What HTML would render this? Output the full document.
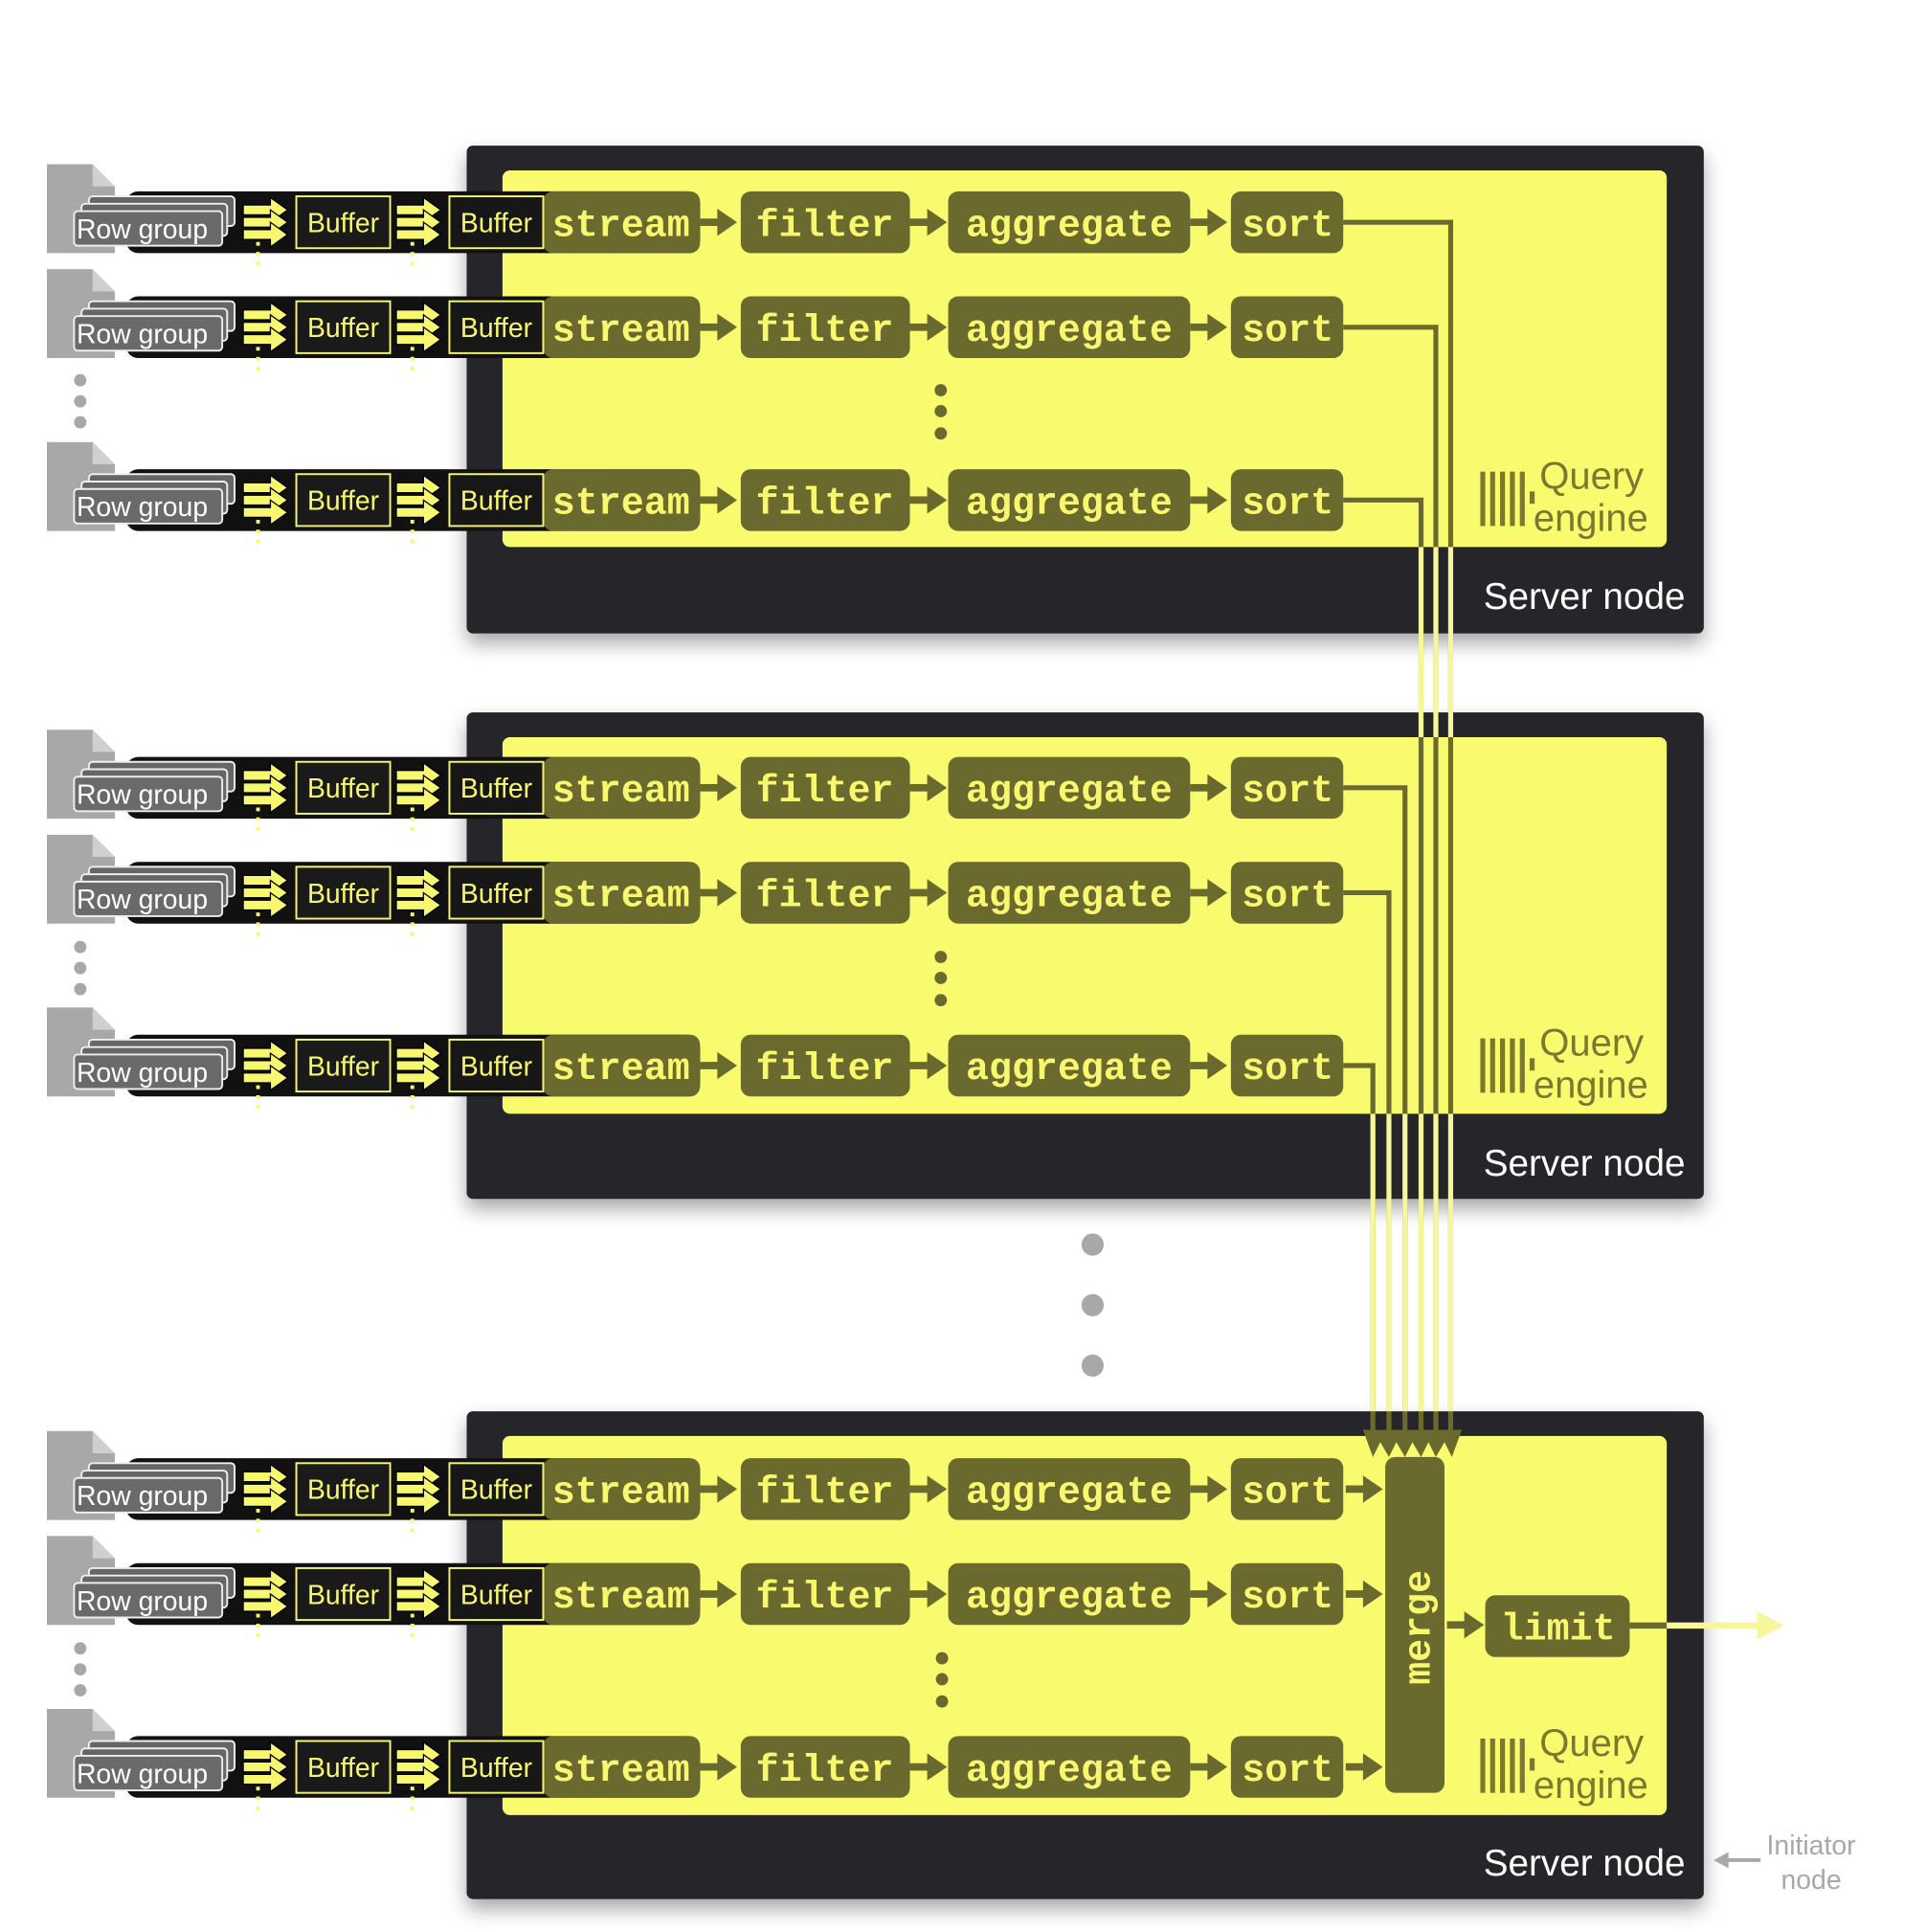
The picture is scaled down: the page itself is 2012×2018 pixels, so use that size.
<!DOCTYPE html>
<html><head><meta charset="utf-8"><style>
html,body{margin:0;padding:0;background:#fff;}
svg{display:block;}
.m{font-family:"Liberation Mono",monospace;font-weight:bold;font-size:31px;fill:#f8f870;}
.b{font-family:"Liberation Sans",sans-serif;font-size:22px;fill:#f8f870;}
.rg{font-family:"Liberation Sans",sans-serif;font-size:22px;fill:#fff;}
.n{fill:#6b6a2e;}
.qe{font-family:"Liberation Sans",sans-serif;font-size:31px;fill:#7a792f;}
.sn{font-family:"Liberation Sans",sans-serif;font-size:30px;fill:#fff;}
</style></head><body>
<svg width="2012" height="2018" viewBox="0 0 1560 1564.7" preserveAspectRatio="none" xmlns="http://www.w3.org/2000/svg">
<defs>
<filter id="sh" x="-10%" y="-10%" width="120%" height="130%"><feDropShadow dx="0" dy="8" stdDeviation="8" flood-color="#000" flood-opacity="0.35"/></filter>
<g id="arr3" fill="#f8f870" stroke="#000" stroke-width="1">
<polygon points="0,-14 22,-14 22,-20 36,-10 22,0 22,-6 0,-6"/>
<polygon points="0,-4 22,-4 22,-10 36,0 22,10 22,4 0,4"/>
<polygon points="0,6 22,6 22,0 36,10 22,20 22,14 0,14"/>
</g>
<g id="ca" class="n"><rect x="0" y="-3" width="16" height="6"/><polygon points="14,-11 30,0 14,11"/></g>
<g id="row">
<polygon points="38,-47 75,-47 93,-29 93,25 38,25" fill="#a8a8a8"/><polygon points="75,-47 93,-29 75,-29" fill="#d0d0d0"/>
<rect x="102" y="-25" width="465" height="50" rx="10" fill="#111"/>
<rect x="72" y="-21" width="118" height="24" rx="3" fill="#666" stroke="#eee" stroke-width="1.5"/><rect x="66" y="-15" width="118" height="26" rx="3" fill="#666" stroke="#eee" stroke-width="1.5"/><rect x="60" y="-9" width="120" height="28" rx="3" fill="#6a6a6a" stroke="#eee" stroke-width="1.5"/>
<use href="#arr3" x="197" y="0"/><use href="#arr3" x="321" y="0"/>
<line x1="209" y1="16" x2="209" y2="36" stroke="#f8f870" stroke-width="3" stroke-dasharray="3,5"/><line x1="334" y1="16" x2="334" y2="36" stroke="#f8f870" stroke-width="3" stroke-dasharray="3,5"/>
<rect x="240" y="-21" width="76" height="42" fill="#1a1a1a" stroke="#f8f870" stroke-width="1.5"/>
<rect x="440" y="-25" width="127" height="50" rx="8" class="n"/>
<rect x="364" y="-21" width="76" height="42" fill="#1a1a1a" fill-opacity="0.7" stroke="#f8f870" stroke-width="1.5"/>
<use href="#ca" x="567"/><rect x="600" y="-25" width="137" height="50" rx="8" class="n"/>
<use href="#ca" x="737"/><rect x="768" y="-25" width="196" height="50" rx="8" class="n"/>
<use href="#ca" x="964"/><rect x="997" y="-25" width="91" height="50" rx="8" class="n"/>
</g>
<g id="qe">
<g fill="#7a792f"><rect x="1199" y="382" width="4" height="44"/><rect x="1207" y="382" width="4" height="44"/><rect x="1215" y="382" width="4" height="44"/><rect x="1223" y="382" width="4" height="44"/><rect x="1231" y="382" width="4" height="44"/><rect x="1239" y="398" width="4" height="10"/></g>
</g>
</defs>

<g filter="url(#sh)">
<rect x="378" y="118" width="1002" height="395" rx="5" fill="#26262a"/>
<rect x="378" y="577" width="1002" height="394" rx="5" fill="#26262a"/>
<rect x="378" y="1143" width="1002" height="395" rx="5" fill="#26262a"/>
</g>
<rect x="407" y="138" width="943" height="305" rx="6" fill="#f9fb6f"/>
<rect x="407" y="597" width="943" height="305" rx="6" fill="#f9fb6f"/>
<rect x="407" y="1163" width="943" height="307" rx="6" fill="#f9fb6f"/>

<g fill="none" stroke-width="4">
<g stroke="#6b6a2e">
<polyline points="1088,180 1175,180 1175,1160"/>
<polyline points="1088,265 1163,265 1163,1160"/>
<polyline points="1088,405 1151,405 1151,1160"/>
<polyline points="1088,638 1138,638 1138,1160"/>
<polyline points="1088,723 1125,723 1125,1160"/>
<polyline points="1088,863 1112,863 1112,1160"/>
</g>
<g stroke="#f6f69a">
<line x1="1175" y1="443" x2="1175" y2="597"/><line x1="1163" y1="443" x2="1163" y2="597"/><line x1="1151" y1="443" x2="1151" y2="597"/>
<line x1="1175" y1="902" x2="1175" y2="1143"/><line x1="1163" y1="902" x2="1163" y2="1143"/><line x1="1151" y1="902" x2="1151" y2="1143"/>
<line x1="1138" y1="902" x2="1138" y2="1143"/><line x1="1125" y1="902" x2="1125" y2="1143"/><line x1="1112" y1="902" x2="1112" y2="1143"/>
</g>
</g>
<polygon class="n" points="1104,1158 1184,1158 1176,1180 1170,1168 1163,1180 1157,1168 1151,1180 1144,1168 1138,1180 1131,1168 1125,1180 1118,1168 1112,1180"/>

<!-- rows -->
<g transform="translate(0,180)"><use href="#row"/><text class="rg" x="62" y="13">Row group</text><text class="b" x="278" y="8" text-anchor="middle">Buffer</text><text class="b" x="402" y="8" text-anchor="middle">Buffer</text><text class="m" x="503" y="11" text-anchor="middle">stream</text><text class="m" x="668" y="11" text-anchor="middle">filter</text><text class="m" x="866" y="11" text-anchor="middle">aggregate</text><text class="m" x="1043" y="11" text-anchor="middle">sort</text></g>
<g transform="translate(0,265)"><use href="#row"/><text class="rg" x="62" y="13">Row group</text><text class="b" x="278" y="8" text-anchor="middle">Buffer</text><text class="b" x="402" y="8" text-anchor="middle">Buffer</text><text class="m" x="503" y="11" text-anchor="middle">stream</text><text class="m" x="668" y="11" text-anchor="middle">filter</text><text class="m" x="866" y="11" text-anchor="middle">aggregate</text><text class="m" x="1043" y="11" text-anchor="middle">sort</text></g>
<g transform="translate(0,405)"><use href="#row"/><text class="rg" x="62" y="13">Row group</text><text class="b" x="278" y="8" text-anchor="middle">Buffer</text><text class="b" x="402" y="8" text-anchor="middle">Buffer</text><text class="m" x="503" y="11" text-anchor="middle">stream</text><text class="m" x="668" y="11" text-anchor="middle">filter</text><text class="m" x="866" y="11" text-anchor="middle">aggregate</text><text class="m" x="1043" y="11" text-anchor="middle">sort</text></g>
<g transform="translate(0,638)"><use href="#row"/><text class="rg" x="62" y="13">Row group</text><text class="b" x="278" y="8" text-anchor="middle">Buffer</text><text class="b" x="402" y="8" text-anchor="middle">Buffer</text><text class="m" x="503" y="11" text-anchor="middle">stream</text><text class="m" x="668" y="11" text-anchor="middle">filter</text><text class="m" x="866" y="11" text-anchor="middle">aggregate</text><text class="m" x="1043" y="11" text-anchor="middle">sort</text></g>
<g transform="translate(0,723)"><use href="#row"/><text class="rg" x="62" y="13">Row group</text><text class="b" x="278" y="8" text-anchor="middle">Buffer</text><text class="b" x="402" y="8" text-anchor="middle">Buffer</text><text class="m" x="503" y="11" text-anchor="middle">stream</text><text class="m" x="668" y="11" text-anchor="middle">filter</text><text class="m" x="866" y="11" text-anchor="middle">aggregate</text><text class="m" x="1043" y="11" text-anchor="middle">sort</text></g>
<g transform="translate(0,863)"><use href="#row"/><text class="rg" x="62" y="13">Row group</text><text class="b" x="278" y="8" text-anchor="middle">Buffer</text><text class="b" x="402" y="8" text-anchor="middle">Buffer</text><text class="m" x="503" y="11" text-anchor="middle">stream</text><text class="m" x="668" y="11" text-anchor="middle">filter</text><text class="m" x="866" y="11" text-anchor="middle">aggregate</text><text class="m" x="1043" y="11" text-anchor="middle">sort</text></g>
<g transform="translate(0,1206)"><use href="#row"/><use href="#ca" x="1090"/><text class="rg" x="62" y="13">Row group</text><text class="b" x="278" y="8" text-anchor="middle">Buffer</text><text class="b" x="402" y="8" text-anchor="middle">Buffer</text><text class="m" x="503" y="11" text-anchor="middle">stream</text><text class="m" x="668" y="11" text-anchor="middle">filter</text><text class="m" x="866" y="11" text-anchor="middle">aggregate</text><text class="m" x="1043" y="11" text-anchor="middle">sort</text></g>
<g transform="translate(0,1291)"><use href="#row"/><use href="#ca" x="1090"/><text class="rg" x="62" y="13">Row group</text><text class="b" x="278" y="8" text-anchor="middle">Buffer</text><text class="b" x="402" y="8" text-anchor="middle">Buffer</text><text class="m" x="503" y="11" text-anchor="middle">stream</text><text class="m" x="668" y="11" text-anchor="middle">filter</text><text class="m" x="866" y="11" text-anchor="middle">aggregate</text><text class="m" x="1043" y="11" text-anchor="middle">sort</text></g>
<g transform="translate(0,1431)"><use href="#row"/><use href="#ca" x="1090"/><text class="rg" x="62" y="13">Row group</text><text class="b" x="278" y="8" text-anchor="middle">Buffer</text><text class="b" x="402" y="8" text-anchor="middle">Buffer</text><text class="m" x="503" y="11" text-anchor="middle">stream</text><text class="m" x="668" y="11" text-anchor="middle">filter</text><text class="m" x="866" y="11" text-anchor="middle">aggregate</text><text class="m" x="1043" y="11" text-anchor="middle">sort</text></g>

<g fill="#a8a8a8">
<circle cx="65" cy="308" r="5"/><circle cx="65" cy="325" r="5"/><circle cx="65" cy="342" r="5"/>
<circle cx="65" cy="767" r="5"/><circle cx="65" cy="784" r="5"/><circle cx="65" cy="801" r="5"/>
<circle cx="65" cy="1335" r="5"/><circle cx="65" cy="1352" r="5"/><circle cx="65" cy="1369" r="5"/>
<circle cx="885" cy="1008" r="9"/><circle cx="885" cy="1057" r="9"/><circle cx="885" cy="1106" r="9"/>
</g>
<g class="n">
<circle cx="762" cy="316" r="5"/><circle cx="762" cy="333" r="5"/><circle cx="762" cy="351" r="5"/>
<circle cx="762" cy="775" r="5"/><circle cx="762" cy="792" r="5"/><circle cx="762" cy="810" r="5"/>
<circle cx="763" cy="1343" r="5"/><circle cx="763" cy="1360" r="5"/><circle cx="763" cy="1378" r="5"/>
</g>

<rect x="1122" y="1180" width="48" height="272" rx="8" class="n"/>
<text class="m" transform="translate(1158,1318) rotate(-90)" text-anchor="middle">merge</text>
<use href="#ca" x="1172" y="1316"/>
<rect x="1203" y="1292" width="117" height="50" rx="8" class="n"/>
<text class="m" x="1262" y="1328" text-anchor="middle">limit</text>
<rect x="1320" y="1314" width="30" height="5" class="n"/>
<rect x="1350" y="1314" width="75" height="5" fill="#f6f69a"/>
<polygon points="1423,1305 1445,1316.5 1423,1328" fill="#f6f69a"/>

<g><use href="#qe"/><text class="qe" x="1247" y="396">Query</text><text class="qe" x="1242" y="430">engine</text><text class="sn" x="1365" y="493" text-anchor="end">Server node</text></g>
<g transform="translate(0,459)"><use href="#qe"/><text class="qe" x="1247" y="396">Query</text><text class="qe" x="1242" y="430">engine</text><text class="sn" x="1365" y="493" text-anchor="end">Server node</text></g>
<g transform="translate(0,1026)"><use href="#qe"/><text class="qe" x="1247" y="396">Query</text><text class="qe" x="1242" y="430">engine</text><text class="sn" x="1365" y="493" text-anchor="end">Server node</text></g>

<rect x="1398" y="1505" width="28" height="3" fill="#a8a8a8"/>
<polygon points="1388,1506.5 1400,1500 1400,1513" fill="#a8a8a8"/>
<text x="1467" y="1502" text-anchor="middle" font-family="Liberation Sans, sans-serif" font-size="22" fill="#a8a8a8">Initiator</text>
<text x="1467" y="1530" text-anchor="middle" font-family="Liberation Sans, sans-serif" font-size="22" fill="#a8a8a8">node</text>
</svg>
</body></html>
